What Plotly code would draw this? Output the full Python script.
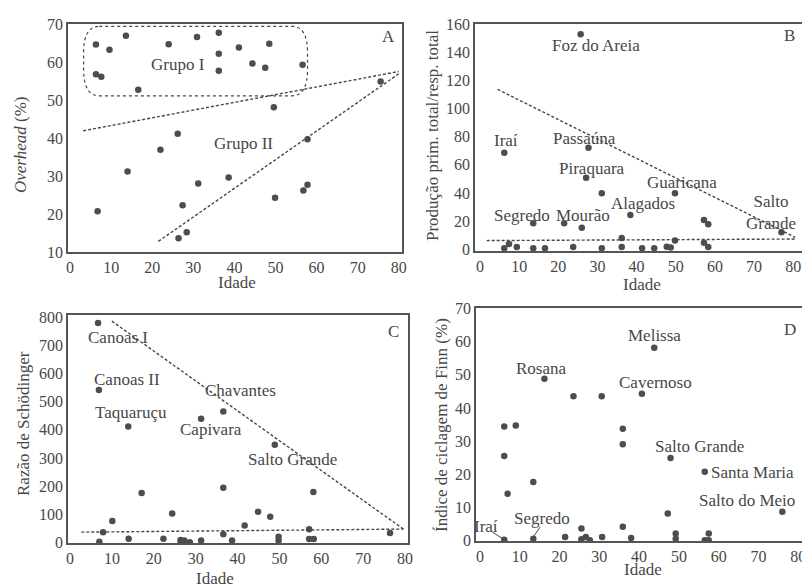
import plotly.graph_objects as go

# ---------------- DATA ----------------
# Panel A: Overhead (%) vs Idade
a_g1_x = [6.3, 6.3, 7.6, 9.6, 13.6, 16.6, 24.0, 30.9, 36.2, 36.2, 36.2, 41.1, 44.4, 47.5, 48.5, 56.6]
a_g1_y = [64.6, 56.8, 56.1, 63.2, 66.9, 52.7, 64.7, 66.6, 67.7, 62.2, 57.7, 63.8, 59.6, 58.5, 64.8, 59.3]
a_g2_x = [6.7, 14.0, 22.0, 26.2, 27.4, 26.4, 28.4, 31.2, 38.6, 49.6, 49.9, 57.8, 56.8, 57.8, 75.6]
a_g2_y = [20.7, 31.2, 36.9, 41.1, 22.3, 13.6, 15.2, 28.0, 29.6, 48.1, 24.3, 39.7, 26.2, 27.7, 54.9]
a_trend1_x = [3.2, 80.0]
a_trend1_y = [41.9, 57.5]
a_trend2_x = [21.5, 80.0]
a_trend2_y = [12.8, 56.9]
a_group_box = dict(x0=3.3, x1=57.8, y0=51.1, y1=69.4, rx=3.8, ry=7.0)

# Panel B: Produção prim. total/resp. total
b_x = [25.7, 6.2, 27.7, 27.1, 31.1, 38.4, 49.8, 13.6, 21.5, 26.0, 57.2, 58.3, 77.0,
       6.2, 7.4, 9.4, 13.6, 16.6, 23.8, 31.1, 36.2, 36.2, 41.4, 44.5, 47.7, 48.7, 49.8, 57.2, 58.3]
b_y = [152.7, 68.6, 72.2, 50.9, 39.8, 24.4, 39.8, 18.5, 18.5, 15.4, 20.8, 17.8, 12.1,
       0.7, 3.8, 1.7, 0.7, 0.7, 1.7, 0.7, 8.0, 1.7, 0.7, 0.7, 1.9, 1.2, 6.2, 4.7, 1.7]
b_trend1_x = [4.5, 80.5]
b_trend1_y = [113.6, 8.5]
b_trend2_x = [1.7, 80.5]
b_trend2_y = [6.2, 7.3]

# Panel C: Razão de Schödinger
c_x = [6.7, 6.9, 13.9, 17.1, 10.1, 7.9, 7.0, 14.0, 22.3, 24.4, 31.3, 36.6, 36.6, 36.6,
       26.4, 26.4, 27.3, 28.6, 31.3, 38.7, 41.7, 44.9, 47.8, 48.9, 49.8, 49.8, 57.1, 57.1, 58.2, 58.1, 76.4]
c_y = [780, 541, 412, 175, 76, 36, 2, 13, 13, 102, 439, 465, 194, 29,
       8, 0, 6, 0, 6, 6, 60, 109, 91, 347, 20, 6, 46, 12, 12, 179, 33]
c_trend1_x = [10.0, 79.6]
c_trend1_y = [786, 47]
c_trend2_x = [2.7, 79.6]
c_trend2_y = [36, 47]

# Panel D: Índice de ciclagem de Finn (%)
d_x = [43.8, 16.2, 23.5, 30.6, 40.7, 6.1, 9.0, 35.9, 35.9, 6.1, 47.9, 56.5, 13.4, 6.95,
       76.0, 47.2, 35.9, 25.5, 49.2, 49.2, 57.5, 6.1, 13.4, 21.4, 25.5, 26.6, 27.6, 30.7, 38.0, 56.5, 57.5]
d_y = [58.2, 48.8, 43.5, 43.5, 44.3, 34.4, 34.7, 33.7, 29.0, 25.5, 24.9, 20.7, 17.6, 14.1,
       8.6, 8.1, 4.1, 3.6, 2.1, 0.5, 2.1, 0.2, 0.5, 1.0, 0.3, 1.0, 0.0, 1.0, 0.7, 0.0, 0.0]

# Labels (text, x, y)
a_labels = [("A", 77.6, 66.6), ("Grupo I", 26.2, 59.3), ("Grupo II", 42.2, 38.5)]
b_labels = [("B", 79.1, 152.2), ("Foz do Areia", 29.5, 145), ("Iraí", 6.6, 77.6),
            ("Passaúna", 26.6, 78.8), ("Piraquara", 28.5, 57.5), ("Guaricana", 51.5, 47.3),
            ("Alagados", 41.7, 32.2), ("Segredo", 10.8, 23.7), ("Mourão", 26.4, 23.7),
            ("Salto<br>Grande", 74.4, 26.5)]
c_labels = [("C", 77.2, 749), ("Canoas I", 11.4, 729), ("Canoas II", 13.5, 580),
            ("Taquaruçu", 14.6, 462), ("Chavantes", 40.6, 538), ("Capivara", 33.6, 400),
            ("Salto Grande", 53.2, 294)]
d_labels = [("D", 77.9, 63.6), ("Melissa", 43.8, 61.9), ("Rosana", 15.5, 51.9),
            ("Cavernoso", 44.0, 47.6), ("Salto Grande", 55.3, 28.5),
            ("Salto do Meio", 67.0, 12.1), ("Segredo", 15.5, 6.7), ("Iraí", 1.4, 4.3)]
d_leaders = [((3.1, 2.5), (6.1, 0.2)), ((15.1, 4.0), (13.4, 1.0))]

# ---------------- STYLE ----------------
FONT = "Liberation Serif"
INK = "#474747"
DOT = "#4d4d4d"
FS = 17
FT = 16

fig = go.Figure()

def add_points(x, y, ax):
    fig.add_trace(go.Scatter(x=x, y=y, mode="markers", xaxis="x" + ax, yaxis="y" + ax,
                             marker=dict(size=6.5, color=DOT), showlegend=False, hoverinfo="skip"))

def add_line(x, y, ax):
    fig.add_trace(go.Scatter(x=x, y=y, mode="lines", xaxis="x" + ax, yaxis="y" + ax,
                             line=dict(color=INK, width=1.4, dash="3px,2px"),
                             showlegend=False, hoverinfo="skip"))

add_points(a_g1_x, a_g1_y, "")
add_points(a_g2_x, a_g2_y, "")
add_line(a_trend1_x, a_trend1_y, "")
add_line(a_trend2_x, a_trend2_y, "")
add_points(b_x, b_y, "2")
add_line(b_trend1_x, b_trend1_y, "2")
add_line(b_trend2_x, b_trend2_y, "2")
add_points(c_x, c_y, "3")
add_line(c_trend1_x, c_trend1_y, "3")
add_line(c_trend2_x, c_trend2_y, "3")
add_points(d_x, d_y, "4")

def axis(domain, rng, dtick, anchor, tick0=0):
    return dict(domain=domain, range=rng, dtick=dtick, tick0=tick0, anchor=anchor,
                showgrid=False, zeroline=False, showline=True, mirror=True,
                linecolor="#555555", linewidth=1.5, ticks="",
                tickfont=dict(family=FONT, size=FT, color=INK), automargin=False)

# page body has an 8px margin; work in window pixels and convert
OFF = 8
W, H = 810 - OFF, 584 - OFF
def dx(p0, p1):
    return [(p0 - OFF) / W, (p1 - OFF) / W]
def dy(p_top, p_bot):
    return [1 - (p_bot - OFF) / H, 1 - (p_top - OFF) / H]

layout = dict(
    width=W, height=H, margin=dict(l=0, r=0, t=0, b=0),
    paper_bgcolor="white", plot_bgcolor="white", showlegend=False,
    font=dict(family=FONT, size=FS, color=INK),
    xaxis=axis(dx(68, 402), [-0.5, 80.8], 10, "y"),
    yaxis=axis(dy(24, 252), [10, 70], 10, "x", tick0=10),
    xaxis2=axis(dx(475, 803), [-1.28, 82.5], 10, "y2"),
    yaxis2=axis(dy(23.5, 251), [-1.2, 160.4], 20, "x2"),
    xaxis3=axis(dx(68, 408), [-0.48, 80.7], 10, "y3"),
    yaxis3=axis(dy(315, 543), [-2.5, 808], 100, "x3"),
    xaxis4=axis(dx(476, 805), [-1.0, 81.7], 10, "y4"),
    yaxis4=axis(dy(308, 541), [-0.2, 70.2], 10, "x4"),
)
fig.update_layout(**layout)

annotations = []
def add_labels(labels, ax):
    for t, x, y in labels:
        annotations.append(dict(text=t, x=x, y=y, xref="x" + ax, yref="y" + ax, showarrow=False,
                                font=dict(family=FONT, size=FS, color=INK)))

add_labels(a_labels, "")
add_labels(b_labels, "2")
add_labels(c_labels, "3")
add_labels(d_labels, "4")
annotations.append(dict(text="Santa Maria", x=57.6, y=20.6, xref="x4", yref="y4", xanchor="left",
                        showarrow=False, font=dict(family=FONT, size=FS, color=INK)))

# axis titles (placed in window pixels)
def ptitle(text, px, py, angle=0):
    annotations.append(dict(text=text, x=(px - OFF) / W, y=1 - (py - OFF) / H,
                            xref="paper", yref="paper",
                            showarrow=False, textangle=angle, xanchor="center", yanchor="middle",
                            font=dict(family=FONT, size=FS, color=INK)))

ptitle("<i>Overhead</i> (%)", 20, 145, -90)
ptitle("Produção prim. total/resp. total", 432, 136, -90)
ptitle("Razão de Schödinger", 23, 424, -90)
ptitle("Índice de ciclagem de Finn (%)", 441, 425, -90)
ptitle("Idade", 237, 282)
ptitle("Idade", 642, 284)
ptitle("Idade", 215, 578)
ptitle("Idade", 643, 569)

fig.update_layout(annotations=annotations)

# group outline in panel A (rounded dotted box)
b = a_group_box
x0, x1, y0, y1, rx, ry = b["x0"], b["x1"], b["y0"], b["y1"], b["rx"], b["ry"]
path = (f"M {x0+rx},{y1} L {x1-rx},{y1} Q {x1},{y1} {x1},{y1-ry} L {x1},{y0+ry} "
        f"Q {x1},{y0} {x1-rx},{y0} L {x0+rx},{y0} Q {x0},{y0} {x0},{y0+ry} "
        f"L {x0},{y1-ry} Q {x0},{y1} {x0+rx},{y1} Z")
shapes = [dict(type="path", path=path, xref="x", yref="y",
               line=dict(color=INK, width=1.2, dash="dot"))]
for (sx, sy), (ex, ey) in d_leaders:
    shapes.append(dict(type="line", x0=sx, y0=sy, x1=ex, y1=ey, xref="x4", yref="y4",
                       line=dict(color=INK, width=1)))
fig.update_layout(shapes=shapes)

fig.write_html("out.html")
